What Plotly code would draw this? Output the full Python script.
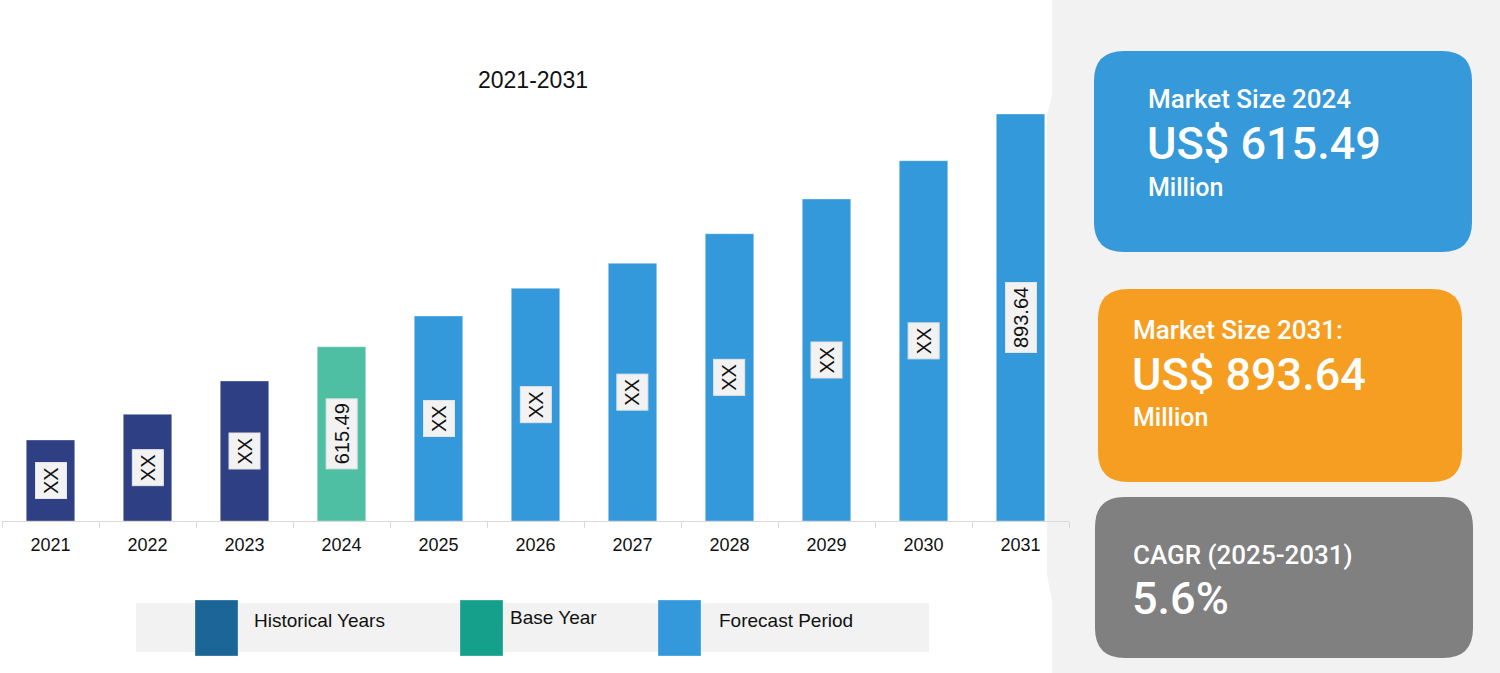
import plotly.graph_objects as go

# ---------------- data ----------------
years = ["2021", "2022", "2023", "2024", "2025", "2026", "2027", "2028", "2029", "2030", "2031"]
# relative bar heights as drawn in the chart (chart units)
bar_heights = [81, 106.7, 140, 174.3, 205, 232.7, 257.7, 287.3, 322, 360.3, 407]
bar_labels = ["XX", "XX", "XX", "615.49", "XX", "XX", "XX", "XX", "XX", "XX", "893.64"]
periods = ["hist", "hist", "hist", "base", "fore", "fore", "fore", "fore", "fore", "fore", "fore"]

legend_names = ["Historical Years", "Base Year", "Forecast Period"]
chart_title = "2021-2031"

card_2024 = ["Market Size 2024", "US$ 615.49", "Million"]
card_2031 = ["Market Size 2031:", "US$ 893.64", "Million"]
card_cagr = ["CAGR (2025-2031)", "5.6%"]

# ---------------- styles ----------------
BAR_COLORS = {"hist": "#2F3F83", "base": "#4FBFA4", "fore": "#3499DB"}
LEG_COLORS = ["#1B6597", "#14A08A", "#3499DB"]
W, H = 1500, 673
PL, PR, PT, PB = 2, 1069, 60, 521  # plot area in pixels
FONT = "Liberation Sans, Arial, sans-serif"
CARD_FONT = "Roboto, Liberation Sans, sans-serif"


def px(x):
    return (x - PL) / (PR - PL)


def py(y):
    return (PB - y) / (PB - PT)


def rrect(x0, y0, x1, y1, r):
    # rounded rectangle path in paper coordinates (pixel input)
    pts = [
        f"M {px(x0 + r)} {py(y0)}",
        f"L {px(x1 - r)} {py(y0)}",
        f"Q {px(x1)} {py(y0)} {px(x1)} {py(y0 + r)}",
        f"L {px(x1)} {py(y1 - r)}",
        f"Q {px(x1)} {py(y1)} {px(x1 - r)} {py(y1)}",
        f"L {px(x0 + r)} {py(y1)}",
        f"Q {px(x0)} {py(y1)} {px(x0)} {py(y1 - r)}",
        f"L {px(x0)} {py(y0 + r)}",
        f"Q {px(x0)} {py(y0)} {px(x0 + r)} {py(y0)}",
        "Z",
    ]
    return " ".join(pts)


fig = go.Figure()
fig.add_trace(go.Bar(
    x=years, y=bar_heights,
    marker=dict(color=[BAR_COLORS[p] for p in periods],
                line=dict(color="rgba(255,255,255,0.35)", width=1)),
    hoverinfo="x",
    showlegend=False,
))

shapes = []
annotations = []

# right grey panel
panel = (f"M {px(1052)} {py(0)} L {px(1052)} {py(95)} L {px(1047)} {py(115)} "
         f"L {px(1047)} {py(575)} L {px(1052)} {py(600)} L {px(1052)} {py(673)} "
         f"L {px(1500)} {py(673)} L {px(1500)} {py(0)} Z")
shapes.append(dict(type="path", path=panel, xref="paper", yref="paper",
                   fillcolor="#F2F2F2", line=dict(width=0), layer="below"))

# cards
shapes.append(dict(type="path", path=rrect(1094, 51, 1472, 252, 30), xref="paper", yref="paper",
                   fillcolor="#3599DA", line=dict(width=0), layer="below"))
shapes.append(dict(type="path", path=rrect(1098, 289, 1462, 482, 30), xref="paper", yref="paper",
                   fillcolor="#F59E22", line=dict(width=0), layer="below"))
shapes.append(dict(type="path", path=rrect(1095, 497, 1473, 658, 30), xref="paper", yref="paper",
                   fillcolor="#808080", line=dict(width=0), layer="below"))


def card_text(text, x, y, size):
    annotations.append(dict(text=text, x=px(x), y=py(y), xref="paper", yref="paper",
                            xanchor="left", yanchor="middle", showarrow=False,
                            font=dict(family=CARD_FONT, size=size, color="white", weight=500)))


card_text(card_2024[0], 1146, 99, 26)
card_text(card_2024[1], 1145, 143, 45)
card_text(card_2024[2], 1146, 187, 25)
card_text(card_2031[0], 1131, 330, 26)
card_text(card_2031[1], 1130, 374, 45)
card_text(card_2031[2], 1131, 417, 25)
card_text(card_cagr[0], 1131, 555, 26)
card_text(card_cagr[1], 1130, 598, 45)

# legend
shapes.append(dict(type="rect", x0=px(136), x1=px(929), y0=py(652), y1=py(603),
                   xref="paper", yref="paper", fillcolor="#F2F2F2", line=dict(width=0)))
leg_x = [195, 460, 658]
leg_tx = [252, 508, 717]
leg_ty = [620, 617, 620.5]
for i, name in enumerate(legend_names):
    shapes.append(dict(type="rect", x0=px(leg_x[i]), x1=px(leg_x[i] + 43), y0=py(656), y1=py(600),
                       xref="paper", yref="paper", fillcolor=LEG_COLORS[i],
                       line=dict(color="rgba(255,255,255,0.3)", width=1)))
    annotations.append(dict(text=name, x=px(leg_tx[i]), y=py(leg_ty[i]), xref="paper", yref="paper",
                            xanchor="left", yanchor="middle", showarrow=False,
                            font=dict(family=FONT, size=19, color="#111111")))

# title
annotations.append(dict(text=chart_title, x=px(533), y=py(80), xref="paper", yref="paper",
                        xanchor="center", yanchor="middle", showarrow=False,
                        font=dict(family=FONT, size=23, color="#111111")))

# bar value labels (x given as category index)
for i, (h, lab) in enumerate(zip(bar_heights, bar_labels)):
    annotations.append(dict(text=lab, x=i, y=h / 2, xref="x", yref="y", textangle=-90,
                            showarrow=False, bgcolor="#F2F2F2", bordercolor="#E4E4E4",
                            borderwidth=1, borderpad=4,
                            font=dict(family=FONT, size=20, color="#111111")))

fig.update_layout(
    width=W, height=H,
    margin=dict(l=PL, r=W - PR, t=PT, b=H - PB),
    plot_bgcolor="white", paper_bgcolor="white",
    bargap=0.5,
    shapes=shapes, annotations=annotations,
    xaxis=dict(type="category", categoryorder="array", categoryarray=years,
               range=[-0.5, len(years) - 0.5], autorange=False,
               showline=True, linecolor="#D9D9D9", linewidth=1,
               ticks="outside", tickson="boundaries", ticklen=6, tickcolor="#D9D9D9",
               ticklabelstandoff=7,
               showgrid=False, tickfont=dict(family=FONT, size=18, color="#111111"),
               tickangle=0, fixedrange=True),
    yaxis=dict(visible=False, range=[0, PB - PT], fixedrange=True),
)

fig.write_html("out.html", config={"displayModeBar": False},
               post_script="document.body.style.margin='0';")
